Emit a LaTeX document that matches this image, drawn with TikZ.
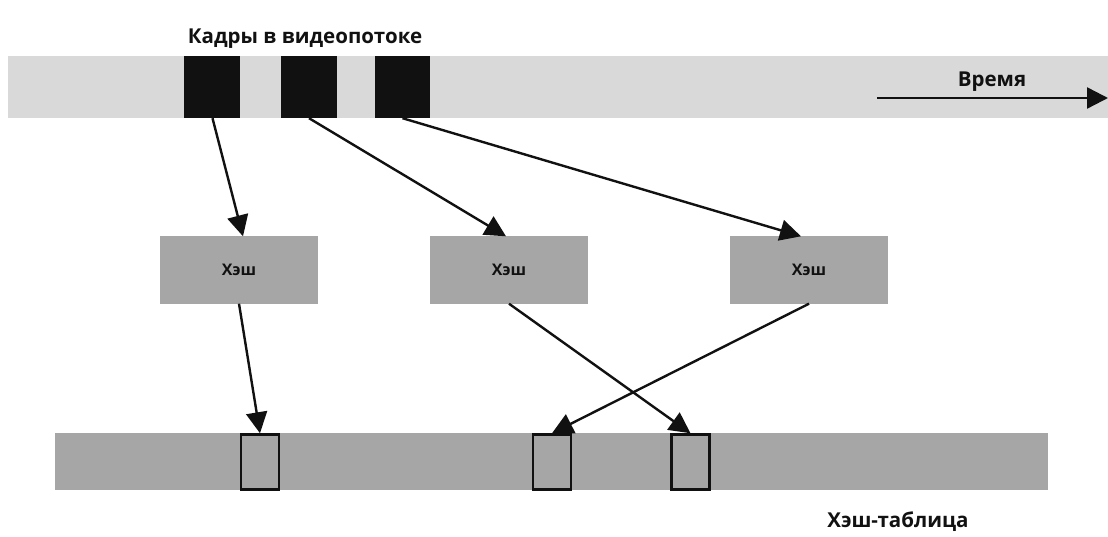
\documentclass[tikz,border=0pt]{standalone}
\usepackage{fontspec}
\setmainfont{Open Sans}
\usetikzlibrary{arrows.meta}
\definecolor{topgrey}{HTML}{D9D9D9}
\definecolor{hashgrey}{HTML}{A6A6A6}
\definecolor{ink}{HTML}{111111}
\begin{document}
\begin{tikzpicture}[x=1pt,y=-1pt,
  lbl/.style={font=\bfseries\fontsize{20.5}{24}\selectfont, text=ink, inner sep=0pt},
  framebox/.style={fill=ink, draw=none, minimum width=56pt, minimum height=62pt, inner sep=0pt},
  hashbox/.style={fill=hashgrey, draw=none, minimum width=158pt, minimum height=67pt, inner sep=0pt, font=\bfseries\fontsize{16}{19}\selectfont, text=ink},
  slot/.style={draw=ink, line width=2.5pt, fill=hashgrey, minimum width=38pt, minimum height=55pt, inner sep=0pt},
  bar/.style={draw=none, inner sep=0pt},
  arr/.style={draw=ink, line width=2.4pt, -{Triangle[length=21pt,width=21pt]}}
]
\useasboundingbox (0,0) rectangle (1108,537);
% bars
\node[bar, fill=topgrey, minimum width=1100pt, minimum height=62pt] (stream) at (558,87) {};
\node[bar, fill=hashgrey, minimum width=993pt, minimum height=57pt] (table) at (551.5,461.5) {};
% frames
\node[framebox] (f1) at (211.5,87) {};
\node[framebox] (f2) at (309,87) {};
\node[framebox, minimum width=55pt] (f3) at (402.5,87) {};
% labels
\node[lbl] (title) at (305,39) {Кадры в видеопотоке};
\node[lbl] (time) at (992,82) {Время};
\node[lbl] (tbl) at (898,522) {Хэш-таблица};
% time arrow
\coordinate (t0) at (877,98);
\coordinate (t1) at (1108,98);
\draw[arr] (t0) -- (t1);
% hash boxes
\node[hashbox] (h1) at (239,270) {Хэш};
\node[hashbox] (h2) at (509,270) {Хэш};
\node[hashbox] (h3) at (809,270) {Хэш};
% slots
\node[slot] (s1) at (260,462) {};
\node[slot] (s2) at (552,462) {};
\node[slot] (s3) at (690.5,462) {};
% arrows
\draw[arr] ([xshift=1pt]f1.south) -- ([xshift=4pt]h1.north);
\draw[arr] (f2.south) -- ([xshift=-3pt]h2.north);
\draw[arr] (f3.south) -- ([xshift=-8pt]h3.north);
\draw[arr] (h1.south) -- (s1.north);
\draw[arr] (h2.south) -- (s3.north);
\draw[arr] (h3.south) -- (s2.north);
\end{tikzpicture}
\end{document}
